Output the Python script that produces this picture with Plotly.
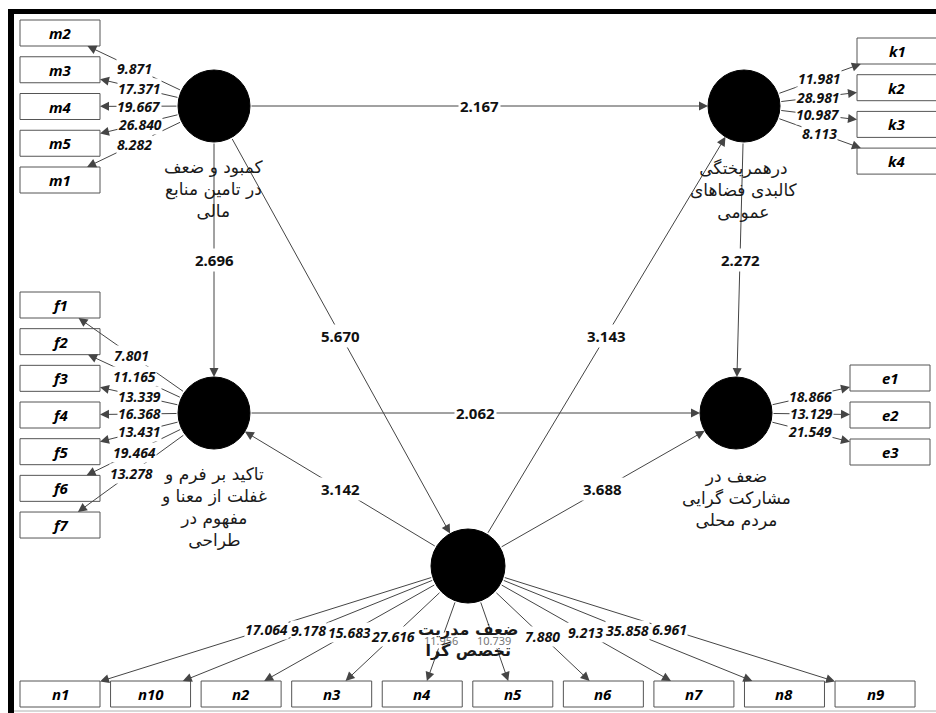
import math
import plotly.graph_objects as go

# ---------------- data ----------------
construct_ids = ["M", "K", "F", "E", "N"]
construct_labels = [
    "کمبود و ضعف<br>در تامین منابع<br>مالی",
    "درهمریختگی<br>کالبدی فضاهای<br>عمومی",
    "تاکید بر فرم و<br>غفلت از معنا و<br>مفهوم در<br>طراحی",
    "ضعف در<br>مشارکت گرایی<br>مردم محلی",
    "ضعف مدریت<br>تخصص گرا",
]

path_from = ["M", "M", "M", "N", "K", "F", "N", "N"]
path_to = ["K", "F", "N", "K", "E", "E", "F", "E"]
path_t = [2.167, 2.696, 5.670, 3.143, 2.272, 2.062, 3.142, 3.688]

m_items = ["m2", "m3", "m4", "m5", "m1"]
m_t = [9.871, 17.371, 19.667, 26.840, 8.282]
k_items = ["k1", "k2", "k3", "k4"]
k_t = [11.981, 28.981, 10.987, 8.113]
f_items = ["f1", "f2", "f3", "f4", "f5", "f6", "f7"]
f_t = [7.801, 11.165, 13.339, 16.368, 13.431, 19.464, 13.278]
e_items = ["e1", "e2", "e3"]
e_t = [18.866, 13.129, 21.549]
n_items = ["n1", "n10", "n2", "n3", "n4", "n5", "n6", "n7", "n8", "n9"]
n_t = [17.064, 9.178, 15.683, 27.616, 11.956, 10.739, 7.880, 9.213, 35.858, 6.961]
n_small = ["n4", "n5"]  # loadings drawn small/grey under the construct name

# ---------------- layout (positions / styles) ----------------
W, H = 936, 713
node_pos = {"M": (214, 106), "K": (744, 106), "F": (214, 413), "E": (736, 413), "N": (468, 566)}
node_r = {"M": 36, "K": 36, "F": 36, "E": 36, "N": 37}
node_label_top = {"M": 155, "K": 156, "F": 462, "E": 464, "N": 618}
node_label_size = {"M": 17, "K": 17, "F": 17, "E": 17, "N": 16}
BW, BH = 80, 26

blocks = [
    ("M", m_items, m_t, "col", 20, 20, 36.75),
    ("K", k_items, k_t, "col", 857, 38, 36.7),
    ("F", f_items, f_t, "col", 20, 292, 36.67),
    ("E", e_items, e_t, "col", 850, 365, 37.0),
    ("N", n_items, n_t, "row", 20, 681, 90.56),
]

LINE_C = "#454545"
NUM_FONT = dict(family="Noto Sans", size=14, color="#111111")
PATH_FONT = dict(family="Noto Sans", size=15, color="#111111")
BOX_FONT = dict(family="Noto Sans", size=15, color="#000000")


def circle_edge(node, toward):
    cx, cy = node_pos[node]
    dx, dy = toward[0] - cx, toward[1] - cy
    d = math.hypot(dx, dy)
    r = node_r[node]
    return (cx + r * dx / d, cy + r * dy / d)


def box_edge(c, toward):
    dx, dy = toward[0] - c[0], toward[1] - c[1]
    tx = (BW / 2) / abs(dx) if dx else 1e9
    ty = (BH / 2) / abs(dy) if dy else 1e9
    t = min(tx, ty)
    return (c[0] + t * dx, c[1] + t * dy)


shapes = []
arrows = []
labels = []

# frame
shapes.append(dict(type="rect", xref="x", yref="y", x0=8, x1=14, y0=9, y1=H + 2,
                   fillcolor="black", line=dict(width=0), layer="above"))
shapes.append(dict(type="rect", xref="x", yref="y", x0=8, x1=W + 2, y0=9, y1=14,
                   fillcolor="black", line=dict(width=0), layer="above"))
shapes.append(dict(type="line", xref="x", yref="y", x0=14, x1=W, y0=711, y1=711,
                   line=dict(color="#b0b0b0", width=1), layer="above"))


def add_arrow(tip, tail):
    arrows.append(dict(x=tip[0], y=tip[1], ax=tail[0], ay=tail[1], xref="x", yref="y",
                       axref="x", ayref="y", text="", showarrow=True, arrowhead=2,
                       arrowsize=1.8, arrowwidth=1, arrowcolor=LINE_C, standoff=0))


# inner paths
for a, b, t in zip(path_from, path_to, path_t):
    p0 = circle_edge(a, node_pos[b])
    p1 = circle_edge(b, node_pos[a])
    add_arrow(p1, p0)
    mx, my = (p0[0] + p1[0]) / 2, (p0[1] + p1[1]) / 2
    labels.append(dict(x=mx, y=my, xref="x", yref="y", text=f"<b>{t:.3f}</b>",
                       showarrow=False, font=PATH_FONT, bgcolor="white", borderpad=1))

# indicators
for node, items, vals, orient, start_a, start_b, step in blocks:
    for i, (name, v) in enumerate(zip(items, vals)):
        if orient == "col":
            x0, y0 = start_a, start_b + i * step
        else:
            x0, y0 = start_a + i * step, start_b
        c = (x0 + BW / 2, y0 + BH / 2)
        shapes.append(dict(type="rect", xref="x", yref="y", x0=x0, x1=x0 + BW, y0=y0, y1=y0 + BH,
                           fillcolor="white", line=dict(color="#555555", width=1), layer="above"))
        labels.append(dict(x=c[0], y=c[1], xref="x", yref="y", text=f"<b><i>{name}</i></b>",
                           showarrow=False, font=BOX_FONT))
        p0 = circle_edge(node, c)
        p1 = box_edge(c, node_pos[node])
        add_arrow(p1, p0)
        mx, my = (p0[0] + p1[0]) / 2, (p0[1] + p1[1]) / 2
        if name in n_small:
            labels.append(dict(x=mx, y=my, xref="x", yref="y", text=f"{v:.3f}",
                               showarrow=False, font=dict(family="Noto Sans", size=11, color="#777777"),
                               bgcolor="white", borderpad=0))
        else:
            labels.append(dict(x=mx, y=my, xref="x", yref="y", text=f"<b><i>{v:.3f}</i></b>",
                               showarrow=False, font=NUM_FONT, bgcolor="white", borderpad=0))

# constructs
for cid, lab in zip(construct_ids, construct_labels):
    cx, cy = node_pos[cid]
    r = node_r[cid]
    shapes.append(dict(type="circle", xref="x", yref="y", x0=cx - r, x1=cx + r, y0=cy - r, y1=cy + r,
                       fillcolor="black", line=dict(color="black", width=1), layer="above"))
    txt = f"<b>{lab}</b>" if cid == "N" else lab
    labels.append(dict(x=cx, y=node_label_top[cid], xref="x", yref="y", text=txt,
                       showarrow=False,
                       font=dict(family="DejaVu Sans", size=node_label_size[cid], color="#1a1a1a"),
                       yanchor="top", align="center"))

fig = go.Figure()
fig.update_layout(
    width=W, height=H, autosize=False,
    margin=dict(l=0, r=0, t=0, b=0, pad=0),
    paper_bgcolor="white", plot_bgcolor="white",
    xaxis=dict(range=[0, W], visible=False, fixedrange=True),
    yaxis=dict(range=[H, 0], visible=False, fixedrange=True),
    shapes=shapes,
    annotations=arrows + labels,
    showlegend=False,
)
fig.write_html("out.html", config={"displayModeBar": False},
               post_script="document.body.style.margin='0';document.body.style.overflow='hidden';")
